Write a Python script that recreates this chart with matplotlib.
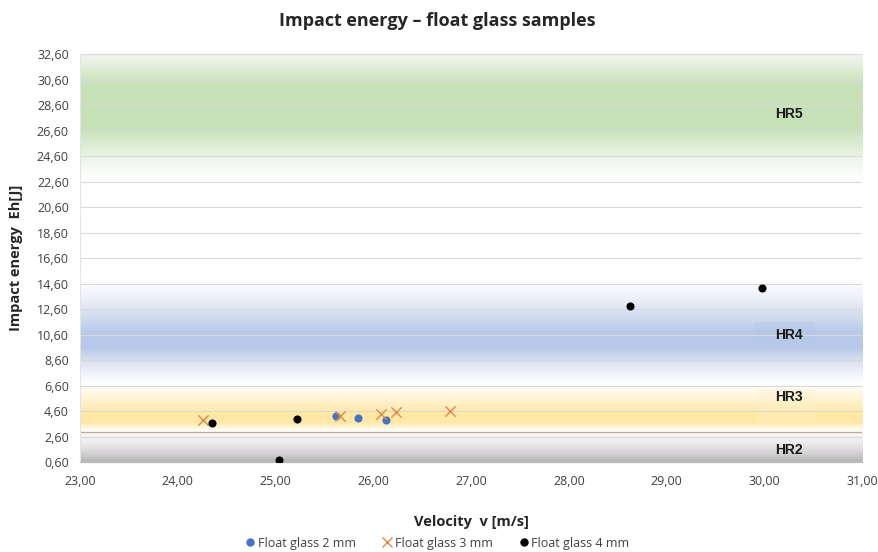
import numpy as np
import matplotlib
matplotlib.use("Agg")
import matplotlib.pyplot as plt
from matplotlib.ticker import FuncFormatter
from matplotlib.lines import Line2D

# ---- data ----
v_2mm = [25.62, 25.84, 26.13]
e_2mm = [4.23, 4.07, 3.87]
v_3mm = [24.26, 25.66, 26.08, 26.23, 26.78]
e_3mm = [3.87, 4.21, 4.34, 4.50, 4.60]
v_4mm = [24.35, 25.22, 25.03, 28.62, 29.97]
e_4mm = [3.64, 3.97, 0.78, 12.86, 14.27]

series_labels = ["Float glass 2 mm", "Float glass 3 mm", "Float glass 4 mm"]
class_labels = ["HR5", "HR4", "HR3", "HR2"]
class_label_y = [27.9, 10.6, 5.7, 1.55]
class_label_x = 30.25

yticks = np.arange(0.6, 32.61, 2.0)
xticks = np.arange(23, 31.01, 1.0)

FONT = ["Open Sans", "DejaVu Sans"]
plt.rcParams['font.family'] = FONT

fig = plt.figure(figsize=(8.79, 5.52), dpi=100)
ax = fig.add_axes([0.091, 0.163, 0.890, 0.739])
ax.set_xlim(23, 31)
ax.set_ylim(0.6, 32.6)

# ---- gradient bands (background) ----
yy = np.linspace(0.6, 32.6, 1200)
rgb = np.ones((len(yy), 3))

def trap(y, a, b, c, d):
    out = np.zeros_like(y)
    m = (y > a) & (y < b)
    out[m] = (y[m] - a) / (b - a)
    out[(y >= b) & (y <= c)] = 1.0
    m = (y > c) & (y < d)
    out[m] = (d - y[m]) / (d - c)
    return out

def blend(rgb, col, alpha):
    col = np.array(col) / 255.0
    return rgb * (1 - alpha[:, None]) + col[None, :] * alpha[:, None]

# green HR5
rgb = blend(rgb, (196, 224, 180), 0.95 * trap(yy, 22.6, 26.8, 30.2, 34.0) ** 1.3)
# blue HR4
rgb = blend(rgb, (180, 198, 231), 0.95 * trap(yy, 6.6, 9.6, 10.8, 15.0) ** 1.3)
# yellow HR3
rgb = blend(rgb, (255, 228, 150), 0.85 * trap(yy, 2.95, 3.7, 4.5, 6.8) ** 1.2)
# grey HR2
g = np.zeros_like(yy)
m = yy <= 2.95
t = (yy[m] - 0.6) / 2.35
g[m] = 0.7 * (1 - t) ** 1.5 + 0.1 * t ** 3
rgb = blend(rgb, (150, 145, 150), g)

img = rgb[:, None, :].repeat(2, axis=1)
ax.imshow(img, extent=[23, 31, 0.6, 32.6], origin='lower', aspect='auto',
          interpolation='bilinear', zorder=0)

# subtle label boxes
ax.add_patch(plt.Rectangle((29.9, 9.7), 0.62, 1.9, facecolor=(180/255, 200/255, 232/255),
                           edgecolor='none', alpha=0.35, zorder=1))
ax.add_patch(plt.Rectangle((29.92, 3.3), 0.6, 3.0, facecolor=(255/255, 240/255, 200/255),
                           edgecolor='none', alpha=0.3, zorder=1))

# gridlines
for yv in yticks:
    ax.axhline(yv, color='#D9D9D9', lw=0.8, zorder=1.5)
ax.axhline(2.95, color='#B8AE98', lw=0.9, zorder=1.6)

# ---- scatter ----
ax.scatter(v_2mm, e_2mm, s=34, color='#4472C4', zorder=5, linewidths=0)
ax.scatter(v_3mm, e_3mm, s=55, marker='x', color='#DE8A48', linewidths=1.0, zorder=5)
ax.scatter(v_4mm, e_4mm, s=34, color='black', zorder=6, linewidths=0)

for lab, yv in zip(class_labels, class_label_y):
    ax.text(class_label_x, yv, lab, fontsize=10, fontweight='bold', family=['Liberation Sans', 'DejaVu Sans'],
            ha='center', va='center', color='#1a1a1a', zorder=7)

# ---- axes styling ----
fmt = FuncFormatter(lambda v, p: f"{v:.2f}".replace('.', ','))
ax.set_yticks(yticks)
ax.set_xticks(xticks)
ax.yaxis.set_major_formatter(fmt)
ax.xaxis.set_major_formatter(fmt)
ax.tick_params(axis='both', length=0, labelsize=9, colors='#404040')
ax.tick_params(axis='x', pad=9)
ax.tick_params(axis='y', pad=8)
for s in ['top', 'right']:
    ax.spines[s].set_visible(False)
ax.spines['left'].set_color('#E4E4E4')
ax.spines['left'].set_linewidth(0.8)
ax.spines['bottom'].set_color('#BFBFBF')
ax.spines['bottom'].set_linewidth(0.9)

ax.set_xlabel("Velocity  v [m/s]", fontsize=10.5, fontweight='bold', color='#262626', labelpad=20)
ax.set_ylabel("Impact energy  Eh[J]", fontsize=10.5, fontweight='bold', color='#262626', labelpad=10)

fig.text(0.497, 0.962, "Impact energy – float glass samples", ha='center', va='center',
         fontsize=13, fontweight='bold', color='#262626')

handles = [
    Line2D([], [], marker='o', linestyle='none', color='#4472C4', markersize=5),
    Line2D([], [], marker='x', linestyle='none', color='#DE8A48', markersize=7, markeredgewidth=1.0),
    Line2D([], [], marker='o', linestyle='none', color='black', markersize=5),
]
fig.legend(handles, series_labels, loc='center', bbox_to_anchor=(0.497, 0.016), ncol=3,
           frameon=False, fontsize=9, handletextpad=0.1, columnspacing=2.0,
           handlelength=1.0, labelcolor='#404040')

fig.savefig("out.png", dpi=100)
